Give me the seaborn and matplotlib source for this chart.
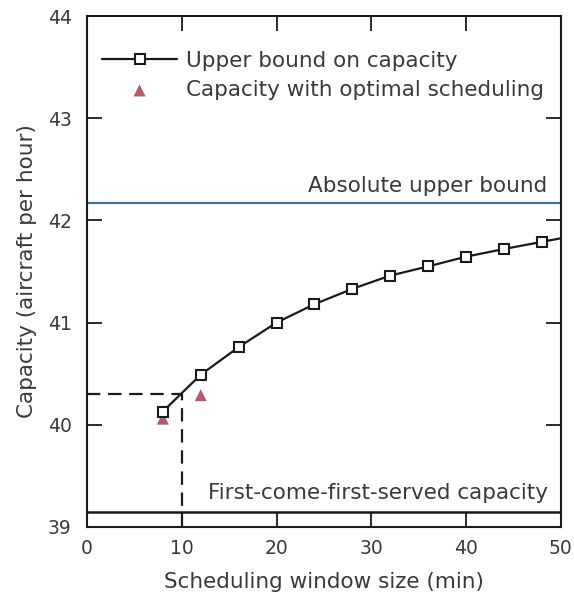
import matplotlib
matplotlib.use("Agg")
import matplotlib.pyplot as plt
import seaborn as sns
import pandas as pd

# Upper bound on capacity vs. scheduling window size
window_min = [8, 12, 16, 20, 24, 28, 32, 36, 40, 44, 48, 52]
upper_bound = [40.13, 40.49, 40.76, 41.00, 41.18, 41.33, 41.46, 41.55, 41.645, 41.72, 41.79, 41.86]

# Capacity achieved with optimal scheduling
opt_window = [8, 12]
opt_capacity = [40.06, 40.29]

# Reference levels
absolute_upper = 42.17
fcfs_capacity = 39.15
marked_window = 10
marked_capacity = 40.30

x_ticks = [0, 10, 20, 30, 40, 50]
y_ticks = [39, 40, 41, 42, 43, 44]

sns.set_style("ticks")
plt.rcParams["font.family"] = ["DejaVu Sans"]
text_color = "#3a3a3a"

fig = plt.figure(figsize=(5.74, 6.02), dpi=100)
ax = fig.add_axes([0.1516, 0.1246, 0.8254, 0.8488])

ub = pd.DataFrame({"window": window_min, "capacity": upper_bound})
opt = pd.DataFrame({"window": opt_window, "capacity": opt_capacity})

ax.axhline(absolute_upper, color="#3f7190", lw=1.6, zorder=2)
ax.axhline(fcfs_capacity, color="#1a1a1a", lw=1.8, zorder=2)

ax.plot([0, marked_window], [marked_capacity, marked_capacity], ls=(0, (6, 3.5)),
        color="#1a1a1a", lw=1.6, zorder=2)
ax.plot([marked_window, marked_window], [y_ticks[0], marked_capacity], ls=(0, (6, 3.5)),
        color="#1a1a1a", lw=1.6, zorder=2)

sns.scatterplot(data=opt, x="window", y="capacity", ax=ax, marker="^", s=75,
                color="#b55a6c", edgecolor="none", zorder=3,
                label="Capacity with optimal scheduling")
sns.lineplot(data=ub, x="window", y="capacity", ax=ax, color="#1a1a1a", lw=1.6,
             marker="s", markersize=7, markerfacecolor="white",
             markeredgecolor="#1a1a1a", markeredgewidth=1.5, zorder=4,
             label="Upper bound on capacity")

ax.set_xlim(x_ticks[0], x_ticks[-1])
ax.set_ylim(y_ticks[0], y_ticks[-1])
ax.set_xticks(x_ticks)
ax.set_yticks(y_ticks)
ax.tick_params(direction="in", length=11, width=1.3, top=True, right=True,
               labelsize=13.5, colors="#1a1a1a", labelcolor=text_color)
ax.tick_params(axis="y", pad=11)
ax.tick_params(axis="x", pad=9)
for sp in ax.spines.values():
    sp.set_linewidth(1.5)
    sp.set_color("#1a1a1a")

ax.set_xlabel("Scheduling window size (min)", fontsize=15.5, color=text_color, labelpad=10)
ax.set_ylabel("Capacity (aircraft per hour)", fontsize=15.5, color=text_color, labelpad=8)

ax.text(48.6, absolute_upper + 0.17, "Absolute upper bound", ha="right", va="center",
        fontsize=15.5, color=text_color)
ax.text(48.6, fcfs_capacity + 0.18, "First-come-first-served capacity", ha="right",
        va="center", fontsize=15.5, color=text_color)

handles, labels = ax.get_legend_handles_labels()
order = [labels.index("Upper bound on capacity"), labels.index("Capacity with optimal scheduling")]
ax.legend([handles[i] for i in order], [labels[i] for i in order], loc="upper left",
          bbox_to_anchor=(-0.005, 0.966), frameon=False, fontsize=15.5, handlelength=3.5,
          handletextpad=0.4, labelspacing=0.44, labelcolor=text_color, borderaxespad=0.4)

fig.savefig("out.png", dpi=100, facecolor="white")
